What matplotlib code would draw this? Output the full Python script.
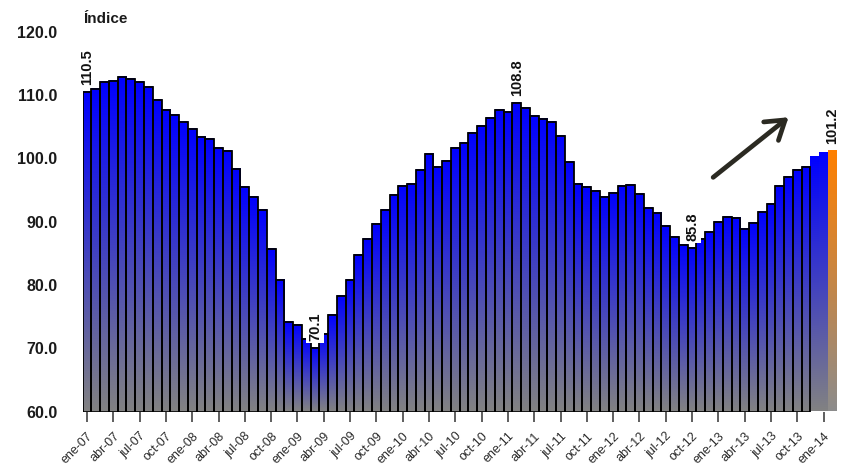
import numpy as np
import matplotlib
matplotlib.use("Agg")
import matplotlib.pyplot as plt
from matplotlib.colors import LinearSegmentedColormap

plt.rcParams['font.family'] = ['Liberation Sans', 'DejaVu Sans']

# Monthly index, ene-07 .. feb-14
values = [
    110.5, 111.0, 112.1, 112.3, 112.9, 112.6, 112.1, 111.2, 109.2, 107.7, 106.9, 105.8,
    104.7, 103.4, 103.0, 101.6, 101.2, 98.3, 95.5, 93.9, 91.8, 85.7, 80.8, 74.1,
    73.7, 71.4, 70.1, 72.3, 75.2, 78.2, 80.8, 84.7, 87.2, 89.6, 91.9, 94.2,
    95.7, 95.9, 98.1, 100.7, 98.6, 99.6, 101.6, 102.5, 104.0, 105.1, 106.3, 107.6,
    107.3, 108.8, 108.0, 106.7, 106.2, 105.8, 103.6, 99.4, 95.9, 95.5, 94.8, 93.9,
    94.6, 95.7, 95.8, 94.4, 92.2, 91.4, 89.3, 87.6, 86.3, 85.8, 87.2, 88.3,
    90.0, 90.7, 90.5, 88.9, 89.8, 91.6, 92.8, 95.7, 97.1, 98.1, 98.7, 100.2,
    100.9, 101.2,
]

tick_labels = [
    'ene-07', 'abr-07', 'jul-07', 'oct-07', 'ene-08', 'abr-08', 'jul-08', 'oct-08',
    'ene-09', 'abr-09', 'jul-09', 'oct-09', 'ene-10', 'abr-10', 'jul-10', 'oct-10',
    'ene-11', 'abr-11', 'jul-11', 'oct-11', 'ene-12', 'abr-12', 'jul-12', 'oct-12',
    'ene-13', 'abr-13', 'jul-13', 'oct-13', 'ene-14',
]
tick_step = 3

# Bars whose value is written above them
labelled = [0, 26, 49, 69, 85]
# Latest bars drawn without outline
no_edge = [83, 84, 85]

y_min, y_max = 60, 120
y_ticks = [60, 70, 80, 90, 100, 110, 120]

W, H = 844, 469
fig = plt.figure(figsize=(W / 100, H / 100), dpi=100)
ax = fig.add_axes([82.6 / W, 1 - 411.5 / H, (836.8 - 82.6) / W, (411.5 - 31.8) / H])

for side in ['top', 'right', 'left', 'bottom']:
    ax.spines[side].set_visible(False)

blue_cmap = LinearSegmentedColormap.from_list('blue_grey', ['#828282', '#0000ff'])
orange_cmap = LinearSegmentedColormap.from_list('orange_grey', ['#8c8c8c', '#ff8000'])
grad = np.linspace(1, 0, 256).reshape(-1, 1)

n = len(values)
for i, v in enumerate(values):
    cmap = orange_cmap if i == n - 1 else blue_cmap
    ax.imshow(grad, extent=[i - 0.5, i + 0.5, y_min, v], origin='upper',
              cmap=cmap, vmin=0, vmax=1, aspect='auto',
              interpolation='bilinear', zorder=2)

x = np.arange(n)
vals = np.array(values)
edged = [i for i in range(n) if i not in no_edge]
ax.bar(x[edged], vals[edged] - y_min, bottom=y_min, width=1.0,
       facecolor='none', edgecolor='black', linewidth=1.3, zorder=3)

for i in labelled:
    ax.annotate(f"{values[i]:.1f}", xy=(i, values[i]), xytext=(0, 5),
                textcoords='offset points', rotation=90, ha='center', va='bottom',
                fontsize=10.5, fontweight='bold', color='#111111', zorder=5,
                bbox=dict(boxstyle='square,pad=0.15', fc='white', ec='none'))

# Trend arrow
ax.annotate('', xy=(80.0, 106.5), xytext=(71.4, 97.0),
            arrowprops=dict(arrowstyle='->,head_length=1.3,head_width=0.85',
                            lw=3.4, color='#2b2a22', shrinkA=0, shrinkB=0),
            zorder=6)

ax.set_xlim(-0.5, n - 0.5)
ax.set_ylim(y_min, y_max)

ax.set_yticks(y_ticks)
ax.set_yticklabels([f"{t:.1f}" for t in y_ticks], fontsize=11.5,
                   fontweight='bold', color='#1a1a1a')
ax.tick_params(axis='y', length=0, pad=18)

ax.set_xticks(np.arange(0, n, tick_step)[:len(tick_labels)])
ax.set_xticklabels(tick_labels, rotation=45, ha='right', va='top',
                   rotation_mode='anchor', fontsize=9, color='#2a2a2a')
ax.tick_params(axis='x', length=7.5, width=1.1, color='#333333', pad=6)

fig.text(83 / W, 1 - 23 / H, 'Índice', fontsize=11, fontweight='bold',
         color='#1a1a1a', ha='left', va='baseline')

fig.savefig('out.png', dpi=100)
